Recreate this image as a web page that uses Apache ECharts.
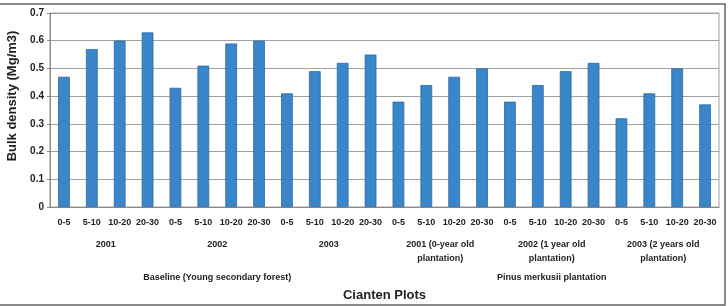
<!DOCTYPE html>
<html>
<head>
<meta charset="utf-8">
<script src="https://cdn.jsdelivr.net/npm/echarts@6/dist/echarts.min.js"></script>
<style>
html, body { margin: 0; padding: 0; background: #fff; }
#main { width: 728px; height: 306px; }
</style>
</head>
<body>
<div id="main"></div>
<script>
var depths = ['0-5', '5-10', '10-20', '20-30'];
var years = ['2001', '2002', '2003', '2001 (0-year old\nplantation)', '2002 (1 year old\nplantation)', '2003 (2 years old\nplantation)'];
var plots = ['Baseline (Young secondary forest)', 'Pinus merkusii plantation'];
var bulkDensity = [
    0.47, 0.57, 0.60, 0.63,
    0.43, 0.51, 0.59, 0.60,
    0.41, 0.49, 0.52, 0.55,
    0.38, 0.44, 0.47, 0.50,
    0.38, 0.44, 0.49, 0.52,
    0.32, 0.41, 0.50, 0.37
];

var chartDom = document.getElementById('main');
var myChart = echarts.init(chartDom);

var depthCats = [];
for (var i = 0; i < years.length; i++) {
    for (var j = 0; j < depths.length; j++) {
        depthCats.push(depths[j]);
    }
}

var font = 'Liberation Sans, Arial, sans-serif';
var textColor = '#222';
var sepColor = '#a8a8a8';

var option = {
    backgroundColor: '#fff',
    animation: false,
    grid: {
        left: 50,
        right: 9,
        top: 13,
        bottom: 99,
        outerBoundsMode: 'none',
        show: true,
        borderColor: '#a0a0a0',
        borderWidth: 1
    },
    graphic: [{
        type: 'rect',
        shape: { x: -2, y: 4, width: 727, height: 301 },
        style: { fill: 'none', stroke: '#666', lineWidth: 1.5 },
        z: -1
    }],
    xAxis: [{
        type: 'category',
        data: depthCats,
        position: 'bottom',
        axisLine: { lineStyle: { color: '#888' } },
        axisTick: { length: 22, lineStyle: { color: sepColor } },
        axisLabel: {
            interval: 0,
            margin: 11,
            fontSize: 9,
            fontWeight: 'bold',
            fontFamily: font,
            color: textColor
        }
    }, {
        type: 'category',
        data: years,
        position: 'bottom',
        axisLine: { show: false },
        axisTick: { length: 56, lineStyle: { color: sepColor } },
        axisLabel: {
            interval: 0,
            margin: 31,
            fontSize: 9,
            lineHeight: 14,
            fontWeight: 'bold',
            fontFamily: font,
            color: textColor
        }
    }, {
        type: 'category',
        data: plots,
        position: 'bottom',
        axisLine: { show: false },
        axisTick: { length: 78, lineStyle: { color: sepColor } },
        axisLabel: {
            interval: 0,
            margin: 66,
            fontSize: 9,
            fontWeight: 'bold',
            fontFamily: font,
            color: textColor
        },
        name: 'Cianten Plots',
        nameLocation: 'middle',
        nameGap: 82,
        nameTextStyle: {
            fontSize: 13,
            fontWeight: 'bold',
            fontFamily: font,
            color: textColor
        }
    }],
    yAxis: {
        type: 'value',
        min: 0,
        max: 0.7,
        interval: 0.1,
        name: 'Bulk density (Mg/m3)',
        nameLocation: 'middle',
        nameGap: 30,
        nameTextStyle: {
            fontSize: 13,
            fontWeight: 'bold',
            fontFamily: font,
            color: textColor,
            padding: [0, 0, 0, 28]
        },
        axisLine: { show: true, lineStyle: { color: '#888' } },
        axisTick: { show: true, length: 3, lineStyle: { color: '#888' } },
        axisLabel: {
            margin: 6,
            fontSize: 10,
            fontWeight: 'bold',
            fontFamily: font,
            color: textColor,
            formatter: function (v) { return Math.round(v * 10) / 10 + ''; }
        },
        splitLine: { lineStyle: { color: '#a0a0a0' } }
    },
    series: [{
        type: 'bar',
        xAxisIndex: 0,
        data: bulkDensity,
        barWidth: '42%',
        itemStyle: {
            color: '#3b86c9',
            borderColor: '#2a68a6',
            borderWidth: 0.8
        }
    }]
};

option && myChart.setOption(option);
</script>
</body>
</html>
